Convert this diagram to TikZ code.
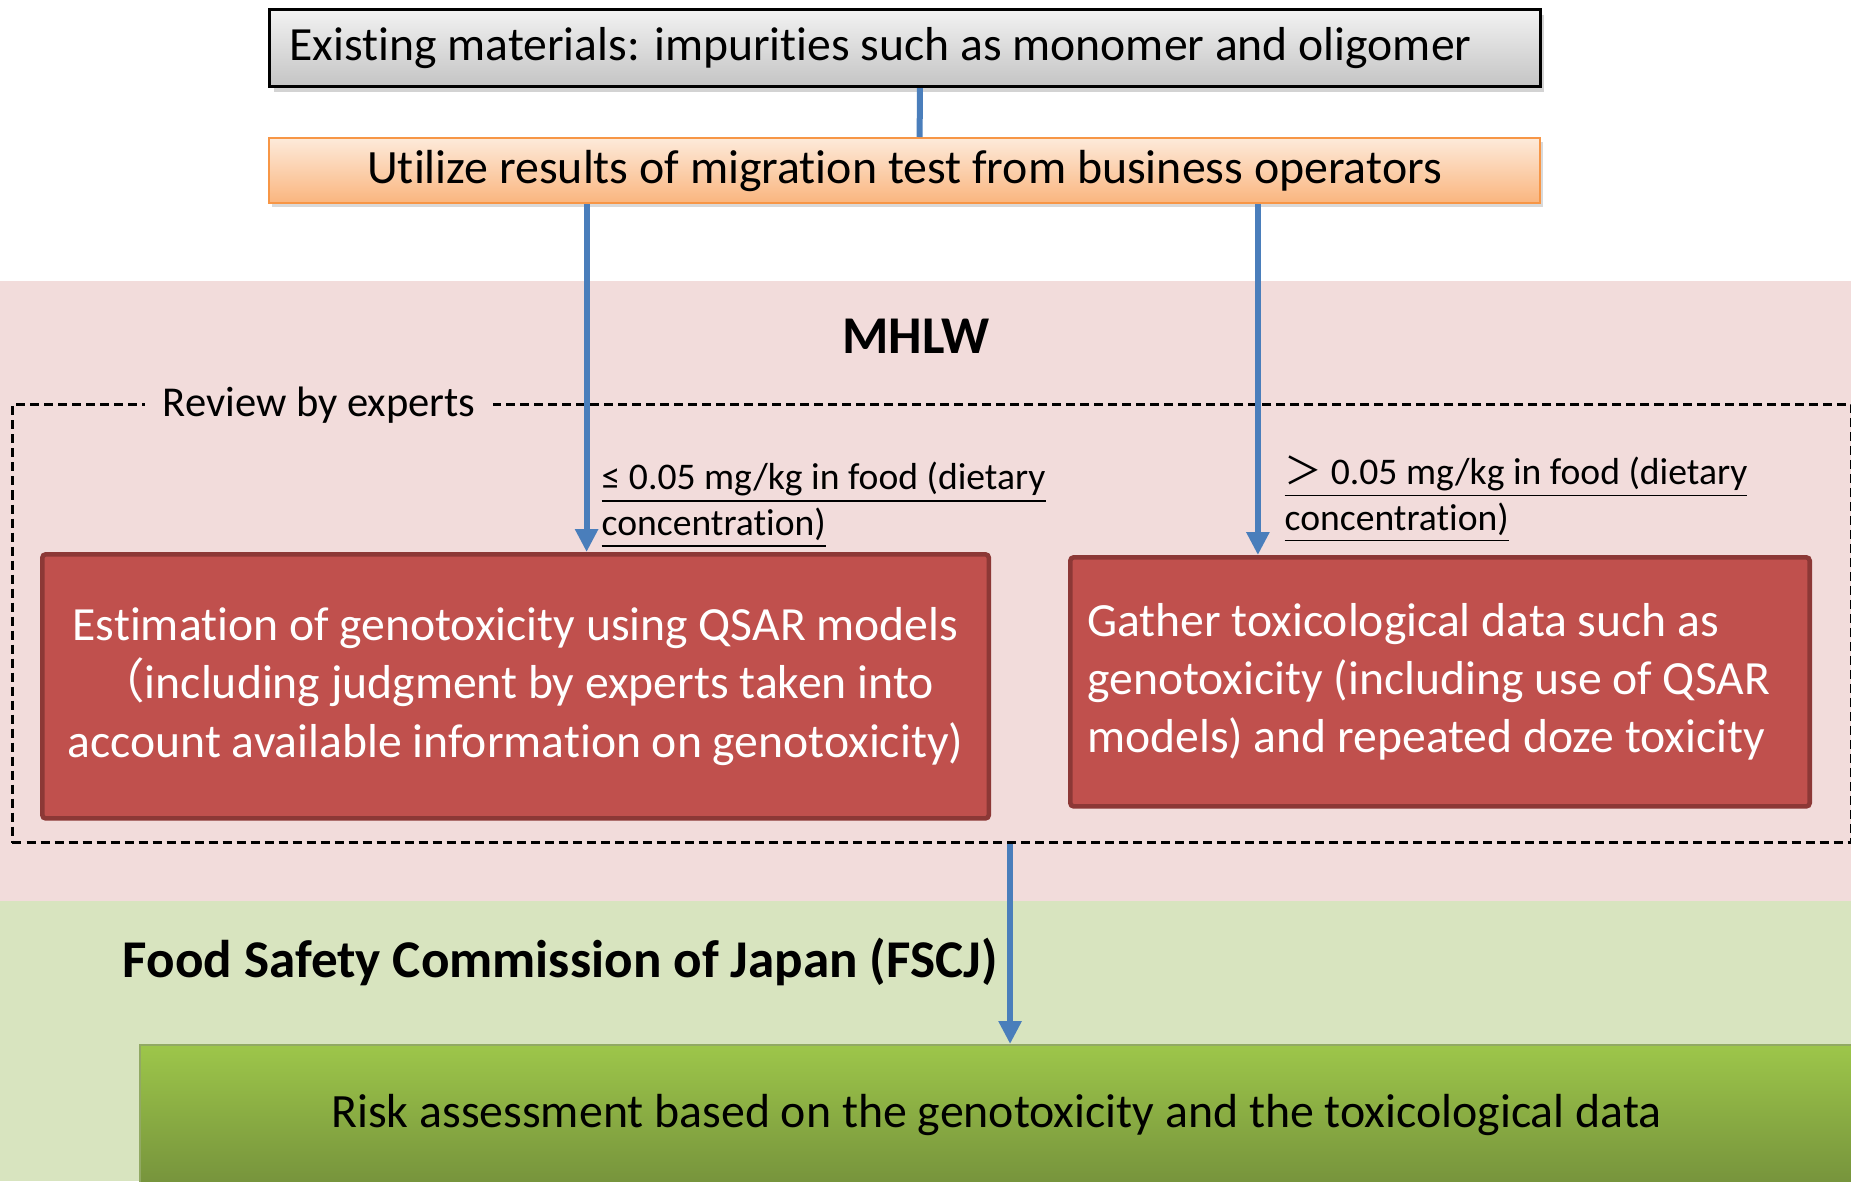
\documentclass[tikz,border=0pt]{standalone}
\usepackage{fontspec}
\setmainfont{Carlito}[Ligatures=NoCommon]
\newfontfamily\cjk{Noto Sans CJK JP}
\usepackage{tikz}
\usetikzlibrary{positioning,arrows.meta,shadows}
\usepackage{xcolor}
\definecolor{bandpink}{HTML}{F2DCDB}
\definecolor{bandgreen}{HTML}{D8E4BF}
\definecolor{boxred}{HTML}{C0504D}
\definecolor{boxredline}{HTML}{8C3836}
\definecolor{flowblue}{HTML}{4A7EBB}
\definecolor{peachtop}{HTML}{FDEADA}
\definecolor{peachbot}{HTML}{FAB57E}
\definecolor{peachline}{HTML}{F79646}
\definecolor{greytop}{HTML}{F2F2F2}
\definecolor{greybot}{HTML}{C4C4C4}
\definecolor{greentop}{HTML}{9DC64A}
\definecolor{greenbot}{HTML}{76933C}

\begin{document}
\begin{tikzpicture}[
    x=0.01cm, y=-0.01cm,
    greybox/.style={draw, line width=0.9pt, top color=greytop, bottom color=greybot, minimum height=0.77cm, text width=12.30cm, inner xsep=0.2cm, align=flush left, font=\fontsize{13.55}{16}\selectfont, drop shadow={shadow xshift=0.04cm, shadow yshift=-0.05cm, opacity=0.35}},
    peachbox/.style={draw=peachline, line width=0.7pt, top color=peachtop, bottom color=peachbot, minimum width=12.70cm, minimum height=0.56cm, font=\fontsize{13.6}{16}\selectfont, drop shadow={shadow xshift=0.03cm, shadow yshift=-0.04cm, opacity=0.3}},
    redbox/.style={draw=boxredline, line width=1.3pt, rounded corners=1pt, fill=boxred, text=white, font=\fontsize{13.55}{16.6}\selectfont},
    greenbox/.style={draw=greenbot!80, line width=0.6pt, top color=greentop, bottom color=greenbot, minimum width=17.12cm, minimum height=1.40cm, font=\fontsize{13.6}{16}\selectfont, drop shadow={shadow xshift=0.03cm, shadow yshift=-0.04cm, opacity=0.3}},
    frame/.style={draw, dashed, dash pattern=on 0.09cm off 0.05cm, line width=0.85pt, minimum width=18.38cm, minimum height=4.38cm},
    cond/.style={align=left, font=\fontsize{10.7}{13.1}\selectfont, inner sep=0pt},
    heading/.style={font=\fontsize{15.1}{17}\selectfont\bfseries},
    arrow/.style={-{Triangle[length=0.23cm, width=0.22cm]}, line width=0.06cm, flowblue}
]
\useasboundingbox (0,0) rectangle (1851,1181);

% Bands
\fill[bandpink] (0,281) rectangle (1851,901);
\fill[bandgreen] (0,901) rectangle (1851,1181);

% Top
\node[greybox, anchor=north west] (existing) at (268,8) {Existing materials: impurities such as monomer and oligomer};
\node[peachbox, anchor=north west] (utilize) at (268,137) {Utilize results of migration test from business operators};

% MHLW
\node[heading] (mhlw) at (916,336) {MHLW};
\node[frame, anchor=north west] (review) at (11,403) {};
\node[fill=bandpink, inner xsep=0.18cm, inner ysep=0.02cm, anchor=west, font=\fontsize{12.1}{15}\selectfont] (reviewlabel) at (144,405) {Review by experts};

% Boxes
\node[redbox, anchor=north west, minimum width=9.46cm, minimum height=2.64cm, align=center] (qsar) at (40,552)
    {Estimation of genotoxicity using QSAR models\\{\cjk （}including judgment by experts taken into\\account available information on genotoxicity)};
\node[redbox, anchor=north west, minimum height=2.49cm, text width=7.05cm, inner xsep=0.17cm, align=flush left] (gather) at (1068,555)
    {Gather toxicological data such as\\genotoxicity (including use of QSAR\\models) and repeated doze toxicity};

% Conditions
\node[cond, anchor=west] (lowcond) at (601,505) {\underline{≤ 0.05 mg/kg in food (dietary}\\\underline{concentration)}};
\node[cond, anchor=west] (highcond) at (1284,499) {\underline{{\cjk ＞} 0.05 mg/kg in food (dietary}\\\underline{concentration)}};

% FSCJ
\node[heading, anchor=west, inner sep=0pt] (fscj) at (122,962) {Food Safety Commission of Japan (FSCJ)};
\node[greenbox, anchor=north west] (risk) at (139,1044) {Risk assessment based on the genotoxicity and the toxicological data};

% Arrows
\draw[line width=0.06cm, flowblue] ([xshift=0.15cm]existing.south) -- ([xshift=0.15cm]utilize.north);
\draw[arrow] ([xshift=0.71cm]qsar.north |- utilize.south) -- ([xshift=0.71cm]qsar.north);
\draw[arrow] ([xshift=-1.82cm]gather.north |- utilize.south) -- ([xshift=-1.82cm]gather.north);
\draw[arrow] ([xshift=0.78cm]review.south) -- ([xshift=0.78cm]review.south |- risk.north);

\end{tikzpicture}
\end{document}
